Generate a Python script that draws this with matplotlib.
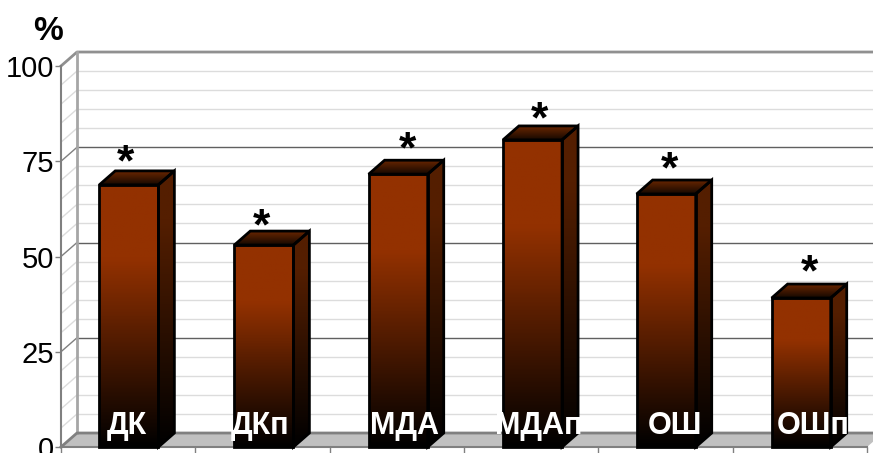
import matplotlib
matplotlib.use('Agg')
import matplotlib.pyplot as plt
from matplotlib.colors import LinearSegmentedColormap
from matplotlib.patches import Polygon
import numpy as np

categories = ['ДК', 'ДКп', 'МДА', 'МДАп', 'ОШ', 'ОШп']
values = [68.8, 53.0, 71.6, 80.6, 66.4, 39.1]

plt.rcParams['font.family'] = ['Liberation Sans', 'DejaVu Sans']

# size of the 3d offset in data units
dx = 0.119
dy = 3.67
bar_w = 0.44
bar_pos = [0.505, 1.51, 2.51, 3.51, 4.505, 5.51]
label_x = [0.49, 1.48, 2.56, 3.56, 4.57, 5.60]
star_x = [0.477, 1.49, 2.58, 3.56, 4.53, 5.57]
star_y = [2.4, 1.5, 3.1, 2.0, 3.0, 3.3]

front_cmap = LinearSegmentedColormap.from_list('front', [(0, '#000000'), (0.72, '#933100'), (1, '#933100')])
side_cmap = LinearSegmentedColormap.from_list('side', [(0, '#000000'), (0.82, '#541e00'), (1, '#541e00')])
top_cmap = LinearSegmentedColormap.from_list('top', [(0, '#150800'), (1, '#6a2600')])
grad = np.linspace(1, 0, 128).reshape(-1, 1)


def shaded(ax, pts, cmap, extent, z):
    poly = Polygon(pts, closed=True, fc='none', ec='black', lw=2, zorder=z + 0.5,
                   joinstyle='miter', clip_on=False)
    ax.add_patch(poly)
    im = ax.imshow(grad, cmap=cmap, extent=extent, aspect='auto', zorder=z, vmin=0, vmax=1)
    im.set_clip_path(poly)


fig = plt.figure(figsize=(8.73, 4.53), dpi=100)
ax = fig.add_axes([61 / 873, 6 / 453, 806 / 873, 381 / 453])
ax.set_xlim(0, 6)
ax.set_ylim(0, 100)

# walls and floor
ax.add_patch(Polygon([(0, 0), (dx, dy), (6 + dx, dy), (6, 0)], fc='#c0c0c0', ec='none', zorder=1, clip_on=False))
for v in range(5, 100, 5):
    major = v % 25 == 0
    c = '#606060' if major else '#dcdcdc'
    ax.plot([dx, 6 + dx], [v + dy, v + dy], color=c, lw=1, zorder=1, clip_on=False)
    ax.plot([0, dx], [v, v + dy], color='#808080' if major else '#dcdcdc', lw=1, zorder=1, clip_on=False)
ax.plot([0, dx, 6 + dx], [100, 100 + dy, 100 + dy], color='#909090', lw=2, zorder=2, clip_on=False)
ax.plot([dx, dx], [dy, 100 + dy], color='#a6a6a6', lw=2, zorder=2, clip_on=False)
ax.plot([0, dx, 6 + dx], [0, dy, dy], color='#808080', lw=2, zorder=2, clip_on=False)

# bars
for i, (x, v) in enumerate(zip(bar_pos, values)):
    l = x - bar_w / 2
    r = x + bar_w / 2
    z = 3 + i
    shaded(ax, [(r, 0), (r + dx, dy), (r + dx, v + dy), (r, v)], side_cmap, (r, r + dx, 0, v + dy), z)
    shaded(ax, [(l, v), (r, v), (r + dx, v + dy), (l + dx, v + dy)], top_cmap, (l, r + dx, v, v + dy), z)
    shaded(ax, [(l, 0), (r, 0), (r, v), (l, v)], front_cmap, (l, r, 0, v), z + 0.2)

for i, name in enumerate(categories):
    ax.text(label_x[i], 3.4, name, color='white', fontsize=22, fontweight='bold', ha='center',
            va='baseline', zorder=20)
    ax.text(star_x[i], values[i] + star_y[i], '*', color='black', fontsize=32, fontweight='bold',
            ha='center', va='baseline', zorder=20)

ax.set_xlim(0, 6)
ax.set_ylim(0, 100)
for s in ['top', 'right']:
    ax.spines[s].set_visible(False)
for s in ['left', 'bottom']:
    ax.spines[s].set_color('#808080')
    ax.spines[s].set_linewidth(1.5)
    ax.spines[s].set_zorder(2)
ax.set_xticks(range(7))
ax.set_xticklabels([])
ax.set_yticks([0, 25, 50, 75, 100])
ax.tick_params(axis='y', labelsize=21, length=4, width=1, color='#808080', pad=1)
ax.tick_params(axis='x', length=6, width=1, color='#808080')
ax.text(48, 453 - 16, '%', transform=None, fontsize=24, fontweight='bold', ha='center', va='top')

fig.savefig('out.png', dpi=100)
